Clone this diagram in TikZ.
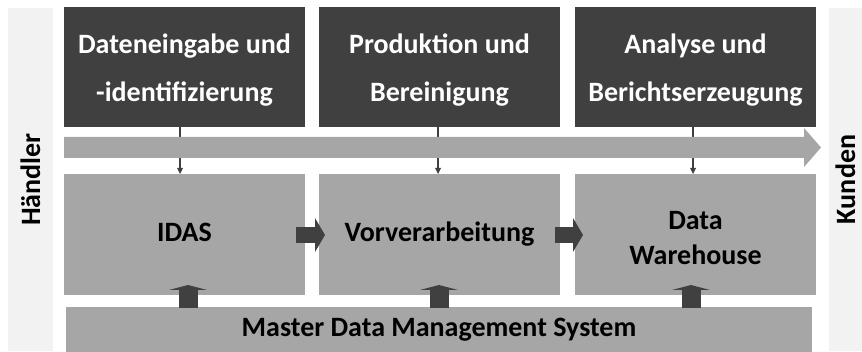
\documentclass[tikz,border=0pt]{standalone}
\usepackage{fontspec}
\setmainfont{Carlito}
\usetikzlibrary{arrows.meta,calc}
\definecolor{darkbox}{HTML}{404040}
\definecolor{midgray}{HTML}{A6A6A6}
\definecolor{sidegray}{HTML}{F2F2F2}
\newcommand{\toplift}{\rule{0pt}{25pt}}
\begin{document}
\begin{tikzpicture}[x=1pt,y=-1pt,
  box/.style={inner sep=0pt, outer sep=0pt, align=center,
    font=\bfseries\fontsize{28}{48}\selectfont},
  stage/.style={box, fill=darkbox, text=white,
    minimum width=241pt, minimum height=120pt},
  system/.style={box, fill=midgray, text=black,
    minimum width=241pt, minimum height=121pt,
    font=\bfseries\fontsize{28}{35}\selectfont},
  side/.style={box, fill=sidegray, text=black, minimum height=343pt},
  feed/.style={draw=darkbox, line width=1.3pt,
    -{Triangle[length=6pt,width=6pt,line width=0pt]}},
  flow/.style={draw=darkbox, line width=16pt,
    -{Triangle[length=10pt,width=34pt,line width=0pt]}},
  supply/.style={draw=darkbox, line width=19pt,
    -{Triangle[length=5pt,width=38pt,line width=0pt]}}]
\useasboundingbox (0,0) rectangle (862,352);

% partners on both ends
\node[side, minimum width=45pt] (vendor) at (30.5,179.5) {\rotatebox{90}{Händler}};
\node[side, minimum width=33pt] (client) at (845.5,179.5) {\rotatebox{90}{Kunden}};

% process stages
\node[stage] (d1) at (184.5,67) {\toplift Dateneingabe und\\-identifizierung};
\node[stage] (d2) at (439.5,67) {\toplift Produktion und\\Bereinigung};
\node[stage] (d3) at (695.5,67) {\toplift Analyse und\\Berichtserzeugung};

% systems
\node[system] (g1) at (184.5,234.5) {IDAS\strut};
\node[system] (g2) at (439.5,234.5) {Vorverarbeitung\strut};
\node[system] (g3) at (695.5,234.5) {\toplift Data\\Warehouse};

% master data bar
\node[box, fill=midgray, minimum width=746pt, minimum height=45pt] (mdm)
  at (439,329.5) {Master Data Management System};

% stage to system links
\draw[feed] (d1.south) ++(-4.5,0) coordinate (f1) -- (f1 |- g1.north);
\draw[feed] (d2.south) ++(-1.5,0) coordinate (f2) -- (f2 |- g2.north);
\draw[feed] (d3.south) ++(-2.5,0) coordinate (f3) -- (f3 |- g3.north);

% overall flow band
\fill[midgray] (64,137) -- (804,137) -- (804,128) -- (821,147.5)
  -- (804,167) -- (804,158) -- (64,158) -- cycle;

% data flow between systems
\draw[flow] ($(g1.east)+(-9,0.5)$) -- ($(g2.west)+(6,0.5)$);
\draw[flow] ($(g2.east)+(-5,0.5)$) -- ($(g3.west)+(8,0.5)$);

% master data supply
\coordinate (s1) at ($(g1.south)+(3.5,-10)$);
\coordinate (s2) at ($(g2.south)+(-0.5,-10)$);
\coordinate (s3) at ($(g3.south)+(-4.5,-10)$);
\draw[supply] ([yshift=-1pt]s1 |- mdm.north) -- (s1);
\draw[supply] ([yshift=-1pt]s2 |- mdm.north) -- (s2);
\draw[supply] ([yshift=-1pt]s3 |- mdm.north) -- (s3);
\end{tikzpicture}
\end{document}
